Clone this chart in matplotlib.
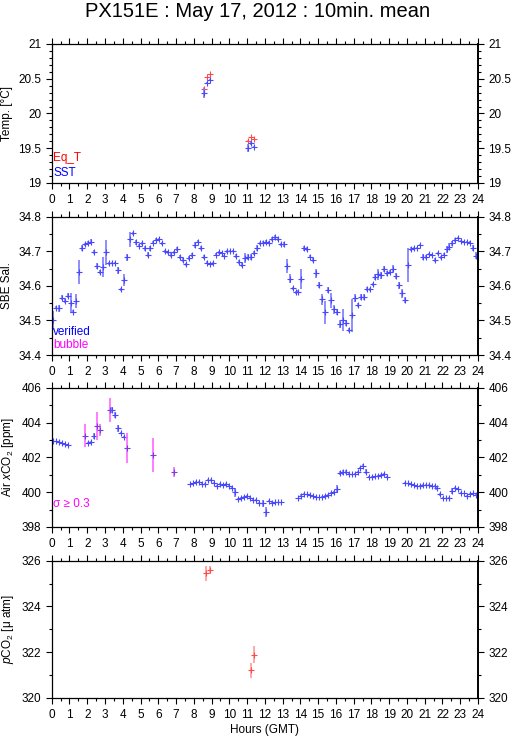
import numpy as np
import matplotlib
matplotlib.use('Agg')
import matplotlib.pyplot as plt
from matplotlib.ticker import MultipleLocator, FuncFormatter

plt.rcParams['font.family'] = ['Liberation Sans', 'DejaVu Sans']
plt.rcParams['mathtext.fontset'] = 'custom'
plt.rcParams['mathtext.rm'] = 'Liberation Sans'
plt.rcParams['mathtext.it'] = 'Liberation Sans:italic'

# --- Temperature panel ---
eqt_hours = [8.56, 8.72, 8.90, 11.05, 11.24, 11.39]
eqt_vals = [20.35, 20.52, 20.57, 19.61, 19.66, 19.63]
eqt_err = [0.03, 0.004, 0.004, 0.004, 0.004, 0.004]
sst_hours = [8.56, 8.72, 8.90, 11.05, 11.24, 11.39]
sst_vals = [20.29, 20.44, 20.48, 19.50, 19.57, 19.52]
sst_err = [0.07, 0.01, 0.01, 0.06, 0.025, 0.01]

# --- SBE salinity, 10 min means ---
sal_vals = [
    34.500, 34.537, 34.535, 34.566, 34.556, 34.572, 34.550, 34.525, 34.555, 34.640,
    34.710, 34.720, 34.725, 34.728, 34.697, 34.658, 34.640, 34.655, 34.697, 34.665,
    34.667, 34.666, 34.645, 34.590, 34.617, 34.682, 34.735, 34.752, 34.726, 34.716,
    34.723, 34.708, 34.690, 34.708, 34.725, 34.733, 34.735, 34.723, 34.700, 34.697,
    34.690, 34.697, 34.706, 34.684, 34.674, 34.662, 34.680, 34.689, 34.718, 34.728,
    34.710, 34.684, 34.667, 34.663, 34.665, 34.690, 34.697, 34.694, 34.686, 34.700,
    34.700, 34.700, 34.686, 34.670, 34.660, 34.680, 34.684, 34.684, 34.694, 34.710,
    34.723, 34.725, 34.728, 34.725, 34.735, 34.741, 34.735, 34.720, 34.720, 34.658,
    34.620, 34.593, 34.581, 34.583, 34.620, 34.708, 34.706, 34.684, 34.675, 34.636,
    34.602, 34.561, 34.523, 34.588, 34.558, 34.532, 34.525, 34.490, 34.500, 34.492,
    34.472, 34.515, 34.564, 34.544, 34.567, 34.567, 34.590, 34.590, 34.604, 34.626,
    34.633, 34.631, 34.649, 34.636, 34.639, 34.650, 34.629, 34.602, 34.578, 34.559,
    34.660, 34.706, 34.710, 34.710, 34.718, 34.684, 34.684, 34.692, 34.689, 34.675,
    34.694, 34.682, 34.690, 34.706, 34.713, 34.723, 34.733, 34.738, 34.730, 34.726,
    34.728, 34.725, 34.710, 34.687,
]
sal_err = [
    0.028, 0.005, 0.010, 0.008, 0.005, 0.006, 0.029, 0.004, 0.020, 0.034,
    0.008, 0.004, 0.006, 0.008, 0.006, 0.008, 0.005, 0.029, 0.036, 0.005,
    0.003, 0.003, 0.010, 0.005, 0.018, 0.010, 0.022, 0.004, 0.008, 0.005,
    0.004, 0.006, 0.008, 0.006, 0.005, 0.004, 0.004, 0.005, 0.005, 0.005,
    0.006, 0.005, 0.006, 0.005, 0.006, 0.005, 0.006, 0.006, 0.008, 0.004,
    0.006, 0.006, 0.004, 0.003, 0.004, 0.005, 0.004, 0.003, 0.004, 0.004,
    0.003, 0.003, 0.006, 0.006, 0.005, 0.014, 0.008, 0.008, 0.006, 0.008,
    0.004, 0.004, 0.004, 0.004, 0.005, 0.005, 0.004, 0.004, 0.008, 0.020,
    0.013, 0.005, 0.004, 0.005, 0.030, 0.008, 0.006, 0.004, 0.006, 0.012,
    0.008, 0.015, 0.032, 0.008, 0.022, 0.012, 0.008, 0.012, 0.032, 0.008,
    0.006, 0.048, 0.012, 0.005, 0.008, 0.008, 0.006, 0.005, 0.004, 0.008,
    0.015, 0.010, 0.008, 0.008, 0.006, 0.010, 0.008, 0.010, 0.012, 0.008,
    0.050, 0.006, 0.003, 0.003, 0.004, 0.008, 0.006, 0.004, 0.004, 0.005,
    0.004, 0.004, 0.004, 0.010, 0.010, 0.008, 0.006, 0.003, 0.004, 0.003,
    0.003, 0.004, 0.008, 0.010,
]
sal_hours = np.arange(len(sal_vals)) / 6.0 + 0.06

# --- Air xCO2 ---
air_hours = [0.06, 0.23, 0.40, 0.56, 0.73, 0.92,
             1.89, 2.04, 2.23, 2.40, 2.57, 2.73, 3.26, 3.41, 3.56, 3.73, 3.90, 4.06, 4.23,
             5.71, 6.89,
             7.81, 7.98, 8.15, 8.31, 8.48, 8.65, 8.82, 8.99, 9.16, 9.33, 9.49, 9.66,
             9.83, 10.00, 10.17, 10.34, 10.51, 10.67, 10.84, 11.01, 11.18, 11.35,
             11.52, 11.69, 11.88, 12.06, 12.23, 12.38, 12.57, 12.72, 12.89,
             13.88, 14.05, 14.20, 14.39, 14.55, 14.72, 14.89, 15.06, 15.23, 15.40,
             15.57, 15.72, 15.88, 16.05, 16.22, 16.39, 16.56, 16.73, 16.90, 17.06,
             17.23, 17.38, 17.55, 17.72, 17.87, 18.04, 18.21, 18.37, 18.54, 18.71,
             18.88,
             19.87, 20.04, 20.21, 20.38, 20.55, 20.72, 20.88, 21.05, 21.22, 21.39,
             21.56, 21.71, 21.88, 22.04, 22.21, 22.38, 22.55, 22.70, 22.87, 23.04,
             23.21, 23.38, 23.54, 23.71, 23.88]
air_vals = [402.92, 402.92, 402.90, 402.86, 402.79, 402.71,
            403.26, 402.82, 402.87, 403.24, 403.80, 403.58, 404.73, 404.73, 404.45,
            403.68, 403.39, 403.16, 402.53,
            402.14, 401.15,
            400.46, 400.51, 400.59, 400.59, 400.46, 400.50, 400.69, 400.69, 400.51,
            400.38, 400.50, 400.42, 400.48, 400.38, 400.26, 400.00, 399.61, 399.65,
            399.75, 399.80, 399.65, 399.56, 399.54, 399.36, 399.36, 398.86, 399.50,
            399.36, 399.42, 399.42, 399.42,
            399.65, 399.79, 399.90, 399.88, 399.84, 399.80, 399.75, 399.71, 399.75,
            399.79, 399.84, 399.94, 400.00, 400.19, 401.09, 401.15, 401.15, 401.05,
            401.03, 401.05, 401.19, 401.38, 401.53, 401.19, 400.88, 400.90, 400.92,
            400.96, 401.00, 401.03, 400.88,
            400.55, 400.51, 400.48, 400.42, 400.38, 400.38, 400.42, 400.42, 400.42,
            400.38, 400.38, 400.23, 399.88, 399.65, 399.65, 399.69, 400.07, 400.23,
            400.19, 399.98, 399.94, 399.79, 399.92, 399.94, 399.84]
air_err = [0.03, 0.03, 0.03, 0.03, 0.03, 0.03,
           0.67, 0.05, 0.05, 0.17, 0.79, 0.33, 0.67, 0.15, 0.15, 0.20, 0.05, 0.05, 0.86,
           0.96, 0.30,
           0.03, 0.03, 0.03, 0.03, 0.05, 0.05, 0.05, 0.05, 0.05, 0.05, 0.05, 0.05,
           0.05, 0.05, 0.05, 0.25, 0.05, 0.05, 0.05, 0.05, 0.05, 0.05,
           0.05, 0.05, 0.20, 0.28, 0.05, 0.05, 0.03, 0.03, 0.03,
           0.03, 0.08, 0.05, 0.03, 0.03, 0.03, 0.03, 0.03, 0.03, 0.03,
           0.03, 0.05, 0.05, 0.25, 0.12, 0.15, 0.12, 0.05, 0.03, 0.03,
           0.05, 0.05, 0.08, 0.15, 0.05, 0.03, 0.03, 0.03, 0.05, 0.05,
           0.03,
           0.03, 0.03, 0.03, 0.03, 0.03, 0.03, 0.03, 0.03, 0.03, 0.03,
           0.03, 0.08, 0.10, 0.05, 0.03, 0.03, 0.20, 0.05, 0.03, 0.05,
           0.03, 0.05, 0.05, 0.03, 0.05]

# --- pCO2 ---
pco2_hours = [8.71, 8.90, 11.22, 11.39]
pco2_vals = [325.45, 325.59, 321.21, 321.89]
pco2_err = [0.32, 0.17, 0.33, 0.36]

BLUE = '#4848ff'
BLUE_BAR = '#7a7aff'
RED = '#ff4a4a'
RED_BAR = '#ff9a9a'
MAGENTA = '#ff00ff'
MAG_BAR = '#ff66ff'

fig = plt.figure(figsize=(5.15, 7.39), dpi=100)
left, width = 0.1004, 0.8278
ax1 = fig.add_axes([left, 0.7524, width, 0.1881])
ax2 = fig.add_axes([left, 0.5196, width, 0.1872])
ax3 = fig.add_axes([left, 0.2869, width, 0.1881])
ax4 = fig.add_axes([left, 0.0555, width, 0.1858])

fmt = FuncFormatter(lambda v, p: f'{v:g}')


def style(ax, ylim, major, minor):
    ax.set_xlim(0, 24)
    ax.set_ylim(*ylim)
    ax.xaxis.set_major_locator(MultipleLocator(1))
    ax.xaxis.set_minor_locator(MultipleLocator(0.5))
    ax.yaxis.set_major_locator(MultipleLocator(major))
    ax.yaxis.set_minor_locator(MultipleLocator(minor))
    ax.yaxis.set_major_formatter(fmt)
    ax.tick_params(which='both', direction='out', top=True, right=True,
                   labelright=True, labelsize=8.5, width=0.8)
    ax.tick_params(which='major', length=4)
    ax.tick_params(which='minor', length=2.5)
    ax.tick_params(axis='x', pad=4)
    for s in ax.spines.values():
        s.set_linewidth(0.9)
    ax.spines['right'].set_linewidth(1.4)


def marks(ax, x, y, e, c, ec):
    ax.errorbar(x, y, yerr=e, fmt='none', ecolor=ec, elinewidth=1.2, capsize=0)
    ax.plot(x, y, '+', color=c, ms=4, mew=0.8)


# Temperature
style(ax1, (19, 21), 0.5, 0.1)
marks(ax1, eqt_hours, eqt_vals, eqt_err, RED, RED_BAR)
marks(ax1, sst_hours, sst_vals, sst_err, BLUE, BLUE_BAR)
ax1.set_ylabel('Temp. [°C]', fontsize=8.5)
ax1.text(0.004, 0.18, 'Eq_T', color='#ff0000', fontsize=8.5, transform=ax1.transAxes, va='center')
ax1.text(0.004, 0.074, 'SST', color='#0000ff', fontsize=8.5, transform=ax1.transAxes, va='center')

# Salinity
style(ax2, (34.4, 34.8), 0.1, 0.05)
marks(ax2, sal_hours, sal_vals, sal_err, BLUE, BLUE_BAR)
ax2.set_ylabel('SBE Sal.', fontsize=8.5)
ax2.text(0.004, 0.168, 'verified', color='#0000ff', fontsize=8.5, transform=ax2.transAxes, va='center')
ax2.text(0.004, 0.072, 'bubble', color=MAGENTA, fontsize=8.5, transform=ax2.transAxes, va='center')

# Air xCO2: sigma >= 0.3 drawn in magenta
style(ax3, (398, 406), 2, 1)
air_h = np.array(air_hours)
air_v = np.array(air_vals)
air_e = np.array(air_err)
hi = air_e >= 0.3
marks(ax3, air_h[~hi], air_v[~hi], air_e[~hi], BLUE, BLUE_BAR)
marks(ax3, air_h[hi], air_v[hi], air_e[hi], '#7040e0', MAG_BAR)
ax3.set_ylabel(r'Air $x$CO$_2$ [ppm]', fontsize=8.5)
ax3.text(0.004, 0.163, 'σ ≥ 0.3', color=MAGENTA, fontsize=8.5, transform=ax3.transAxes, va='center')

# pCO2
style(ax4, (320, 326), 2, 1)
marks(ax4, pco2_hours, pco2_vals, pco2_err, RED, RED_BAR)
ax4.set_ylabel(r'$p$CO$_2$ [μ atm]', fontsize=8.5)
ax4.set_xlabel('Hours (GMT)', fontsize=8.5, labelpad=2)

fig.text(0.5, 0.984, 'PX151E : May 17, 2012 : 10min. mean', ha='center', va='center', fontsize=14.5)

fig.savefig('out.png', dpi=100)
